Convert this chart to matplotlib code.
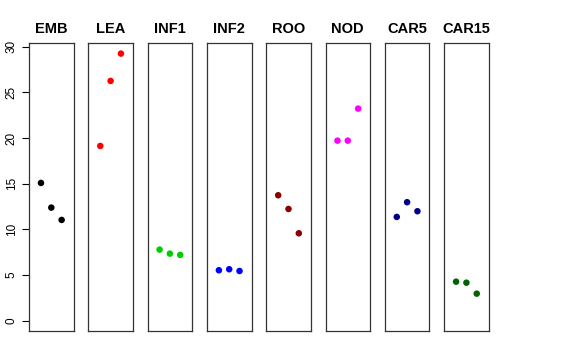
import matplotlib
matplotlib.use("Agg")
import matplotlib.pyplot as plt

plt.rcParams['font.family'] = ['Liberation Sans', 'DejaVu Sans']

tissues = ["EMB", "LEA", "INF1", "INF2", "ROO", "NOD", "CAR5", "CAR15"]
colors = ["#000000", "#FF0000", "#00CD00", "#0000FF", "#8B0000", "#FF00FF", "#00008B", "#006400"]
values = [
    [15.08, 12.38, 11.03],
    [19.13, 26.25, 29.24],
    [7.78, 7.34, 7.20],
    [5.52, 5.63, 5.44],
    [13.73, 12.23, 9.57],
    [19.71, 19.71, 23.22],
    [11.36, 12.97, 11.98],
    [4.27, 4.16, 2.96],
]
yticks = [0, 5, 10, 15, 20, 25, 30]
xs = [1, 2, 3]

W, H = 576, 360
fig = plt.figure(figsize=(W / 100, H / 100), dpi=100)

left0 = 29.0
pw = 44.6
pitch = 59.3
top = 43.0
bottom = 331.0

for i, (name, col, vals) in enumerate(zip(tissues, colors, values)):
    l = left0 + i * pitch
    ax = fig.add_axes([l / W, 1 - bottom / H, pw / W, (bottom - top) / H])
    ax.scatter(xs, vals, s=22, color=col, edgecolors='none', zorder=3)
    ax.set_xlim(-0.16, 4.16)
    ax.set_ylim(-1.13, 30.4)
    ax.set_xticks([])
    ax.set_title(name, fontsize=10.5, fontweight='bold', pad=7)
    for sp in ax.spines.values():
        sp.set_linewidth(0.9)
        sp.set_color('#333333')
    if i == 0:
        ax.set_yticks(yticks)
        ax.set_yticklabels([str(t) for t in yticks], rotation=90, va='center', fontsize=8.5)
        ax.tick_params(axis='y', length=5, width=0.8, pad=3)
    else:
        ax.set_yticks([])

fig.savefig("out.png", dpi=100)
